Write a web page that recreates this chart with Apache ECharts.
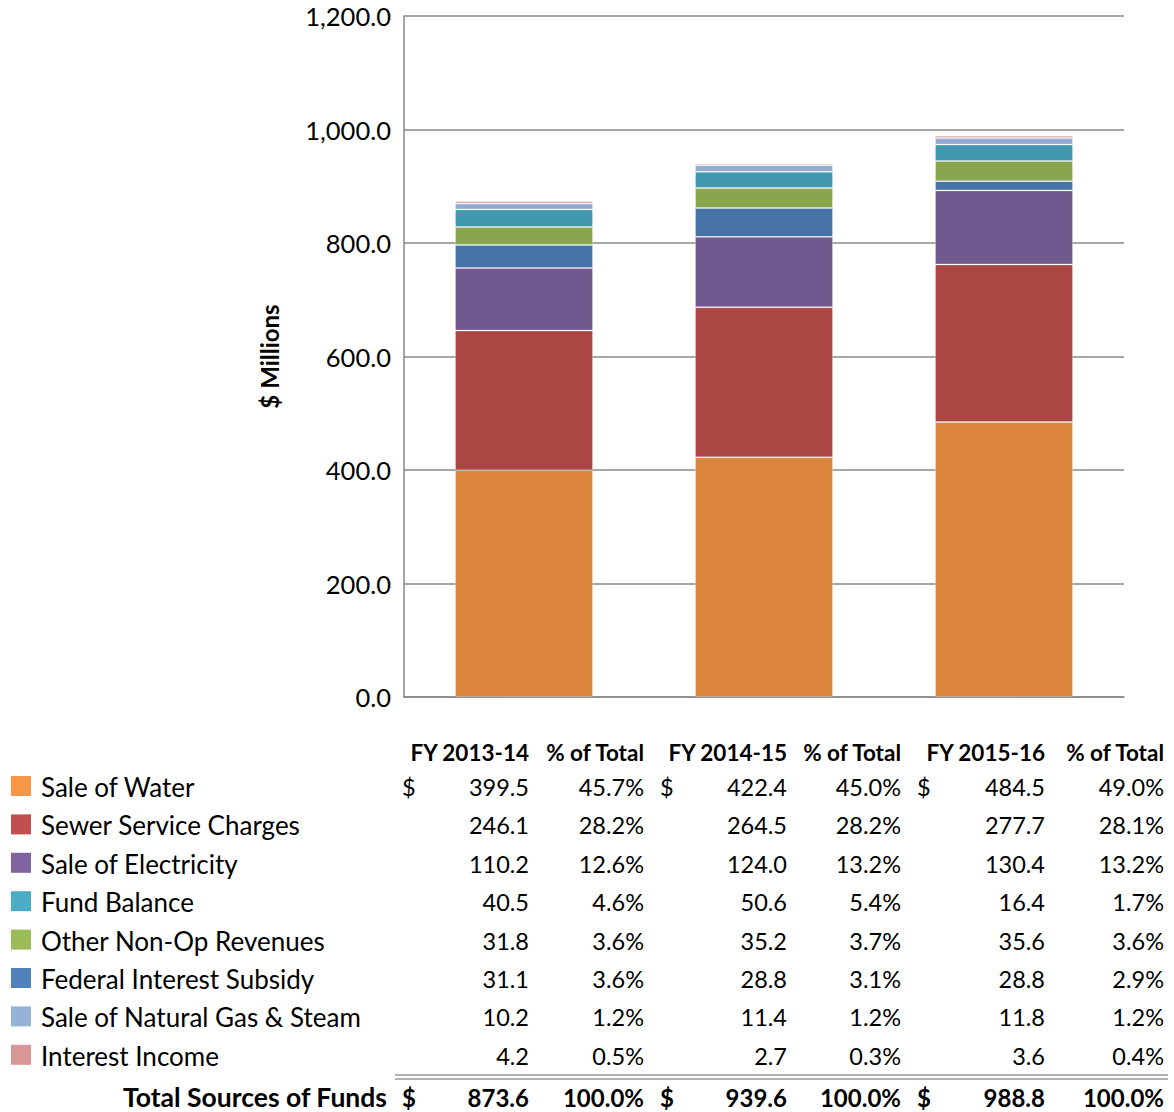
<!DOCTYPE html>
<html>
<head>
<meta charset="utf-8">
<script src="https://cdn.jsdelivr.net/npm/echarts@6/dist/echarts.min.js"></script>
<style>
  html, body { margin: 0; padding: 0; background: #fff; }
  #chart { width: 1174px; height: 1112px; }
</style>
</head>
<body>
<div id="chart"></div>
<script>
// Sources of funds, $ millions, by fiscal year
const categories = ['FY 2013-14', 'FY 2014-15', 'FY 2015-16'];
const saleOfWater = [399.5, 422.4, 484.5];
const sewerServiceCharges = [246.1, 264.5, 277.7];
const saleOfElectricity = [110.2, 124.0, 130.4];
const fundBalance = [40.5, 50.6, 16.4];
const otherNonOpRevenues = [31.8, 35.2, 35.6];
const federalInterestSubsidy = [31.1, 28.8, 28.8];
const saleOfNaturalGasSteam = [10.2, 11.4, 11.8];
const interestIncome = [4.2, 2.7, 3.6];
const yTicks = [0, 200, 400, 600, 800, 1000, 1200];

// Stacked bars, bottom to top
const stackSeries = [
  { name: 'Sale of Water', data: saleOfWater, color: '#DB843D' },
  { name: 'Sewer Service Charges', data: sewerServiceCharges, color: '#AA4643' },
  { name: 'Sale of Electricity', data: saleOfElectricity, color: '#71588F' },
  { name: 'Fund Balance', data: fundBalance, color: '#4572A7' },
  { name: 'Other Non-Op Revenues', data: otherNonOpRevenues, color: '#89A54E' },
  { name: 'Federal Interest Subsidy', data: federalInterestSubsidy, color: '#4198AF' },
  { name: 'Sale of Natural Gas & Steam', data: saleOfNaturalGasSteam, color: '#93A9CF' },
  { name: 'Interest Income', data: interestIncome, color: '#D19392' }
];

// Rows of the table under the chart
const tableRows = [
  { name: 'Sale of Water', data: saleOfWater, swatch: '#F79646' },
  { name: 'Sewer Service Charges', data: sewerServiceCharges, swatch: '#C0504D' },
  { name: 'Sale of Electricity', data: saleOfElectricity, swatch: '#8064A2' },
  { name: 'Fund Balance', data: fundBalance, swatch: '#4BACC6' },
  { name: 'Other Non-Op Revenues', data: otherNonOpRevenues, swatch: '#9BBB59' },
  { name: 'Federal Interest Subsidy', data: federalInterestSubsidy, swatch: '#4F81BD' },
  { name: 'Sale of Natural Gas & Steam', data: saleOfNaturalGasSteam, swatch: '#95B3D7' },
  { name: 'Interest Income', data: interestIncome, swatch: '#DA9694' }
];

const FONT = 'Lato, "Open Sans", sans-serif';
const NAME_FONT = '26px ' + FONT;
const NUM_FONT = '23.5px ' + FONT;
const HEAD_FONT = 'bold 22.5px ' + FONT;
const fmt1 = v => v.toLocaleString('en-US', { minimumFractionDigits: 1, maximumFractionDigits: 1 });

const totals = categories.map((_, i) => tableRows.reduce((s, r) => s + r.data[i], 0));

// Table layout
const valueRight = [529, 787, 1045];
const pctRight = [644, 901, 1164];
const dollarLeft = [402, 660, 917];
const headerY = 752;
const rowY0 = 787, rowStep = 38.4;
const totalY = 1097;

const graphics = [];
function txt(text, x, y, opts) {
  graphics.push({
    type: 'text',
    silent: true,
    style: Object.assign({
      text: text, x: x, y: y,
      fill: '#000',
      font: NUM_FONT,
      textAlign: 'left',
      textVerticalAlign: 'middle'
    }, opts || {})
  });
}

categories.forEach((c, i) => {
  txt(c, valueRight[i], headerY, { textAlign: 'right', font: HEAD_FONT });
  txt('% of Total', pctRight[i], headerY, { textAlign: 'right', font: HEAD_FONT });
});

tableRows.forEach((r, k) => {
  const y = rowY0 + k * rowStep;
  graphics.push({
    type: 'rect', silent: true,
    shape: { x: 11, y: y - 11, width: 20, height: 20 },
    style: { fill: r.swatch }
  });
  txt(r.name, 41, y, { font: NAME_FONT });
  categories.forEach((c, i) => {
    if (k === 0) txt('$', dollarLeft[i], y);
    txt(fmt1(r.data[i]), valueRight[i], y, { textAlign: 'right' });
    txt(fmt1(r.data[i] / totals[i] * 100) + '%', pctRight[i], y, { textAlign: 'right' });
  });
});

// Double rule above the totals
[1075, 1079].forEach(y => {
  graphics.push({
    type: 'line', silent: true,
    shape: { x1: 395, y1: y, x2: 1168, y2: y },
    style: { stroke: '#999', lineWidth: 1.6 }
  });
});

txt('Total Sources of Funds', 387, totalY, { textAlign: 'right', font: 'bold 26.5px ' + FONT });
categories.forEach((c, i) => {
  txt('$', dollarLeft[i], totalY, { font: 'bold 24px ' + FONT });
  txt(fmt1(totals[i]), valueRight[i], totalY, { textAlign: 'right', font: 'bold 24px ' + FONT });
  txt('100.0%', pctRight[i], totalY, { textAlign: 'right', font: 'bold 24px ' + FONT });
});

const chart = echarts.init(document.getElementById('chart'), null, { renderer: 'svg' });
chart.setOption({
  animation: false,
  backgroundColor: '#fff',
  grid: { left: 404, right: 50, top: 16, bottom: 415, containLabel: false },
  xAxis: {
    type: 'category',
    data: categories,
    axisLine: { show: true, lineStyle: { color: '#888', width: 1.5 } },
    axisTick: { show: false },
    axisLabel: { show: false },
    splitLine: { show: false }
  },
  yAxis: {
    type: 'value',
    min: yTicks[0],
    max: yTicks[yTicks.length - 1],
    interval: yTicks[1] - yTicks[0],
    name: '$ Millions',
    nameLocation: 'middle',
    nameGap: 123,
    nameRotate: 90,
    nameTextStyle: { color: '#000', fontFamily: FONT, fontWeight: 'bold', fontSize: 24 },
    axisLine: { show: true, lineStyle: { color: '#888', width: 1.5 } },
    axisTick: { show: false },
    axisLabel: {
      color: '#000', fontFamily: FONT, fontSize: 25.5, margin: 13,
      formatter: v => fmt1(v)
    },
    splitLine: { show: true, lineStyle: { color: '#888', width: 1.5 } }
  },
  series: stackSeries.map(s => ({
    type: 'bar',
    name: s.name,
    stack: 'funds',
    data: s.data,
    barWidth: '57.5%',
    itemStyle: { color: s.color, borderColor: 'rgba(255,255,255,0.25)', borderWidth: 1 },
    emphasis: { disabled: true }
  })),
  graphic: graphics
});
</script>
</body>
</html>
